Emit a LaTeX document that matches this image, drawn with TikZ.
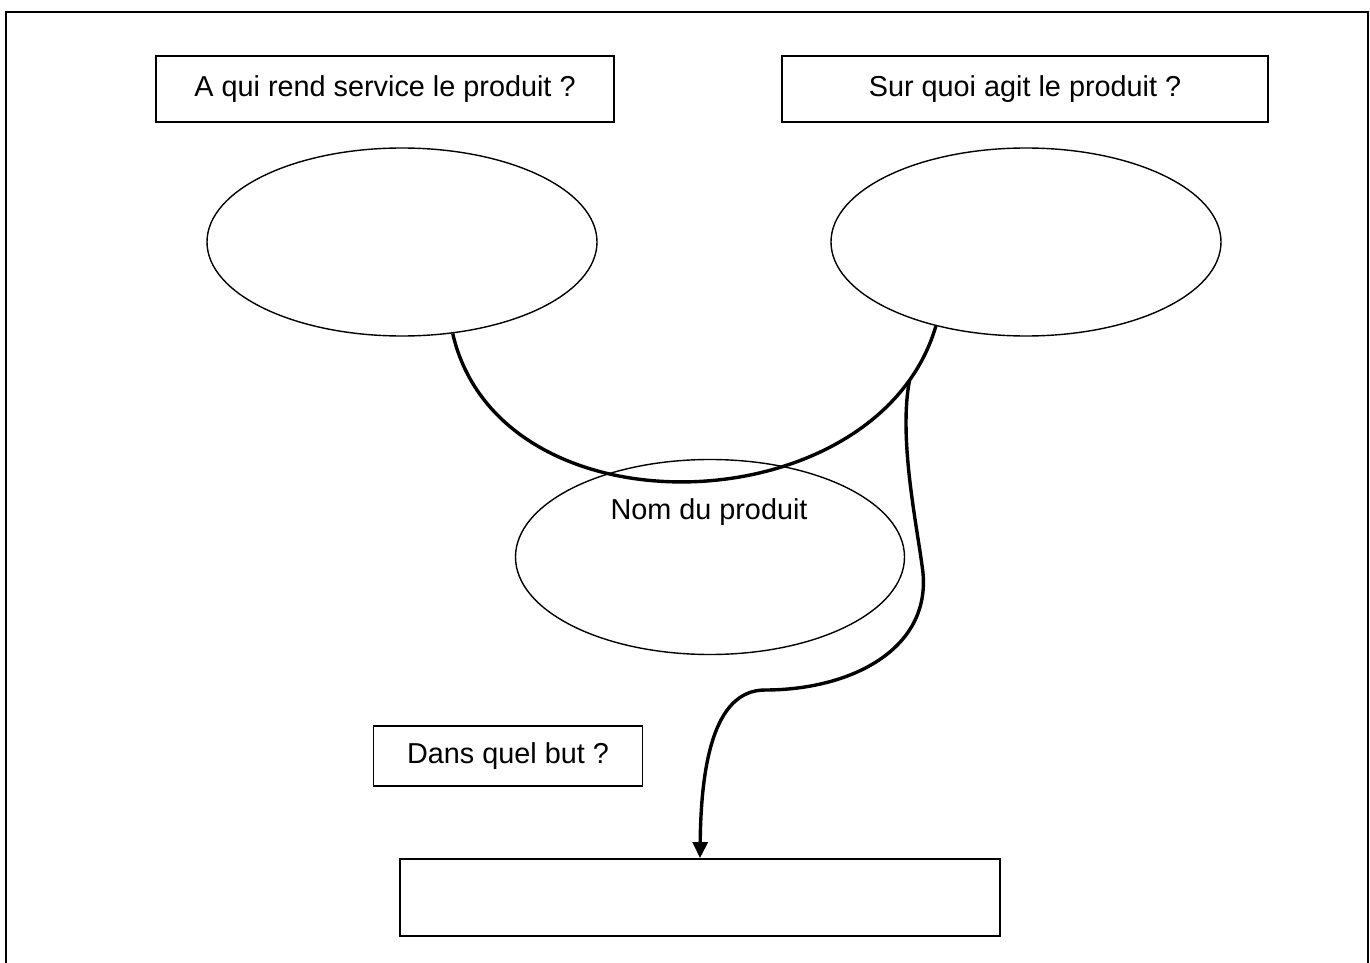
\documentclass[tikz,border=0pt]{standalone}
\usepackage{fontspec}
\setmainfont{Liberation Sans}
\usetikzlibrary{shapes.geometric,arrows.meta}

\newlength{\du}
\setlength{\du}{0.02cm}

\tikzset{
  questionbox/.style={draw=dialinecolor, line width=1.8\du, inner sep=0pt},
  bubble/.style={ellipse, draw=dialinecolor, line width=1.4\du, inner sep=0pt},
  link/.style={draw=dialinecolor, line width=3.4\du},
}

\begin{document}
\begin{tikzpicture}
\pgftransformxscale{1.000000}
\pgftransformyscale{-1.000000}
\definecolor{dialinecolor}{rgb}{0.000000, 0.000000, 0.000000}
\pgfsetstrokecolor{dialinecolor}
\fontsize{16.4}{19.5}\selectfont
\useasboundingbox (0\du,0\du) rectangle (1370\du,963\du);
% frame, open at the foot of the page
\pgfsetlinewidth{2.200000\du}
\pgfsetmiterjoin
\draw (6.000000\du,990.000000\du)--(6.000000\du,12.000000\du)--(1368.000000\du,12.000000\du)--(1368.000000\du,990.000000\du);
% setfont left to latex
\node[questionbox, minimum width=458\du, minimum height=66\du] (whom) at (385.000000\du,89.000000\du){A qui rend service le produit ?};
\node[questionbox, minimum width=486\du, minimum height=66\du] (onwhat) at (1025.000000\du,89.000000\du){Sur quoi agit le produit ?};
\node[bubble, minimum width=390\du, minimum height=188\du] (user) at (402.000000\du,242.000000\du){};
\node[bubble, minimum width=390\du, minimum height=188\du] (matter) at (1026.000000\du,242.000000\du){};
\node[bubble, minimum width=389\du, minimum height=195\du] (product) at (710.000000\du,557.000000\du){};
\node (productname) at (709.000000\du,512.000000\du){Nom du produit};
\node[questionbox, minimum width=269\du, minimum height=60\du] (aim) at (508.000000\du,756.000000\du){Dans quel but ?};
\node[questionbox, minimum width=600\du, minimum height=77\du] (answer) at (700.000000\du,897.500000\du){};
% was here!!!
\draw[link] (user.-61) .. controls (500.000000\du,540.000000\du) and (878.000000\du,525.000000\du) .. (matter.-137) coordinate[pos=0.9] (fork);
{
\pgfsetbuttcap
\draw[link, -{Triangle[width=8.5pt, length=9.1pt]}] (fork) .. controls (898.000000\du,440.000000\du) and (918.000000\du,530.000000\du) .. (923.000000\du,573.000000\du) .. controls (930.000000\du,650.000000\du) and (850.000000\du,690.000000\du) .. (765.000000\du,690.000000\du) .. controls (712.000000\du,690.000000\du) and (701.000000\du,770.000000\du) .. (answer.north);
}
\end{tikzpicture}
\end{document}
